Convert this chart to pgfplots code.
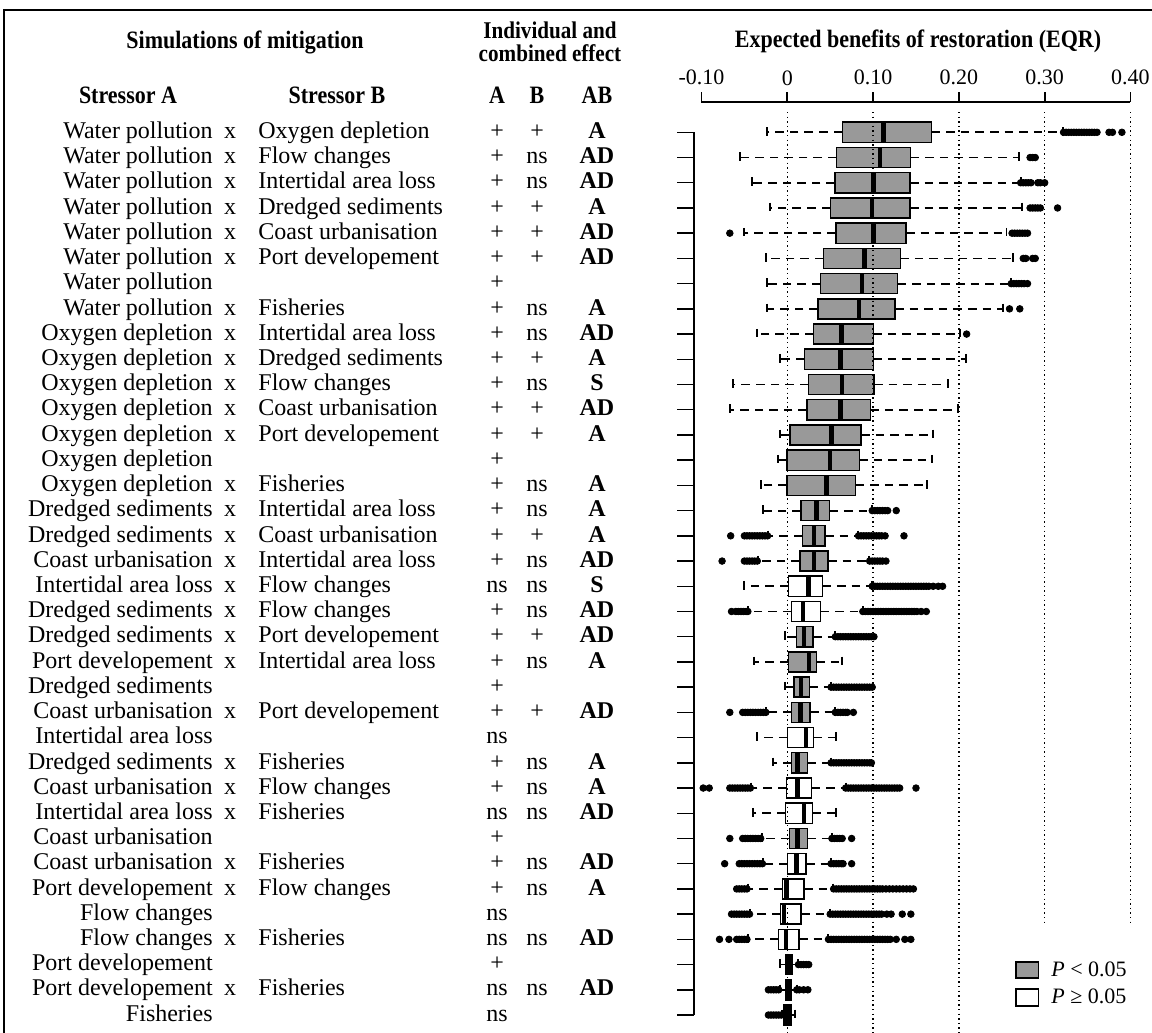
\documentclass[border=0pt]{standalone}
\usepackage{pgfplots}
\pgfplotsset{compat=1.18}
\usepgfplotslibrary{statistics}
\usepackage{graphicx}
\usepackage{fontspec}
\setmainfont{Liberation Serif}
\definecolor{boxgray}{RGB}{153,153,153}
\newcommand{\rf}{\fontsize{12}{14}\selectfont}
\newcommand{\hf}{\fontsize{12.5}{14}\selectfont\bfseries}
\newcommand{\hd}[1]{\scalebox{0.88}[1]{#1}}
\def\xA{-0.6693}\def\xX{-0.6495}\def\xB{-0.6169}\def\xa{-0.3383}\def\xb{-0.2917}\def\xab{-0.2218}
\tikzset{rowtext/.style={font=\rf, inner sep=0pt, yshift=-3.1pt},
  head/.style={font=\hf, anchor=base, inner sep=0pt},
  gridline/.style={black, line width=0.7pt, dash pattern=on 0.7pt off 1.6pt}}
\newcommand{\pair}[6]{%
  \node[rowtext,anchor=base east] at (axis cs:\xA,#1) {#2};
  \node[rowtext,anchor=base] at (axis cs:\xX,#1) {x};
  \node[rowtext,anchor=base west] at (axis cs:\xB,#1) {#3};
  \node[rowtext,anchor=base] at (axis cs:\xa,#1) {#4};
  \node[rowtext,anchor=base] at (axis cs:\xb,#1) {#5};
  \node[rowtext,anchor=base,font=\rf\bfseries] at (axis cs:\xab,#1) {#6};
}
\newcommand{\single}[3]{%
  \node[rowtext,anchor=base east] at (axis cs:\xA,#1) {#2};
  \node[rowtext,anchor=base] at (axis cs:\xa,#1) {#3};
}
\newcommand{\bx}[7]{%
  \addplot[black, boxplot prepared={draw position=#1, lower whisker=#2, lower quartile=#3, median=#4, upper quartile=#5, upper whisker=#6},
    boxplot/every box/.style={fill=#7, line width=0.75pt}] coordinates {};
}
\begin{document}
\begin{tikzpicture}
\path[use as bounding box] (0,0) rectangle (576pt,-516.5pt);
\draw[line width=1pt] (2pt,-516.5pt) -- (2pt,-5pt) -- (576pt,-5pt);
\begin{axis}[
  at={(350.75pt,-51.15pt)}, anchor=north west,
  scale only axis, width=214.5pt, height=463.85pt,
  xmin=-0.1, xmax=0.4, ymin=-0.1895, ymax=36.595, y dir=reverse,
  axis x line*=top, axis y line=none,
  x axis line style={-, line width=0.85pt},
  xtick={-0.1,0,0.1,0.2,0.3,0.4},
  xticklabels={-0.10,0,0.10,0.20,0.30,0.40},
  xtick align=outside, major tick length=5pt,
  xtick style={line width=0.85pt, black},
  xticklabel style={font=\fontsize{11}{13}\selectfont},
  ytick=\empty,
  clip=false,
  boxplot/draw direction=x,
  boxplot/box extend=0.8,
  boxplot/whisker extend=0.42,
  boxplot/every whisker/.style={line width=0.9pt, dash pattern=on 4.3pt off 3pt},
  boxplot/every median/.style={line width=2.2pt, black},
  boxplot/draw/.code={%
    \draw[/pgfplots/boxplot/every whisker/.try]
      (boxplot cs:\pgfplotsboxplotvalue{lower whisker}) -- (boxplot cs:\pgfplotsboxplotvalue{lower quartile})
      (boxplot cs:\pgfplotsboxplotvalue{upper quartile}) -- (boxplot cs:\pgfplotsboxplotvalue{upper whisker});
    \draw[solid, line width=0.9pt]
      (boxplot whisker cs:\pgfplotsboxplotvalue{lower whisker},0) -- (boxplot whisker cs:\pgfplotsboxplotvalue{lower whisker},1)
      (boxplot whisker cs:\pgfplotsboxplotvalue{upper whisker},0) -- (boxplot whisker cs:\pgfplotsboxplotvalue{upper whisker},1);
    \draw[/pgfplots/boxplot/every box/.try]
      (boxplot box cs:\pgfplotsboxplotvalue{lower quartile},0) rectangle (boxplot box cs:\pgfplotsboxplotvalue{upper quartile},1);
    \draw[/pgfplots/boxplot/every median/.try]
      (boxplot box cs:\pgfplotsboxplotvalue{median},0) -- (boxplot box cs:\pgfplotsboxplotvalue{median},1);
  },
]
% boxes: row, lower whisker, Q1, median, Q3, upper whisker, fill
\bx{1}{-0.0233}{0.0641}{0.1123}{0.1682}{0.3217}{boxgray}
\bx{2}{-0.0552}{0.0575}{0.1080}{0.1437}{0.2704}{boxgray}
\bx{3}{-0.0408}{0.0556}{0.1006}{0.1430}{0.2720}{boxgray}
\bx{4}{-0.0202}{0.0501}{0.0990}{0.1430}{0.2735}{boxgray}
\bx{5}{-0.0501}{0.0567}{0.1006}{0.1383}{0.2556}{boxgray}
\bx{6}{-0.0249}{0.0423}{0.0901}{0.1317}{0.2626}{boxgray}
\bx{7}{-0.0233}{0.0385}{0.0870}{0.1286}{0.2603}{boxgray}
\bx{8}{-0.0233}{0.0357}{0.0839}{0.1255}{0.2510}{boxgray}
\bx{9}{-0.0357}{0.0303}{0.0633}{0.1002}{0.2012}{boxgray}
\bx{10}{-0.0082}{0.0198}{0.0622}{0.1002}{0.2082}{boxgray}
\bx{11}{-0.0629}{0.0245}{0.0641}{0.1010}{0.1869}{boxgray}
\bx{12}{-0.0668}{0.0229}{0.0618}{0.0967}{0.1993}{boxgray}
\bx{13}{-0.0082}{0.0031}{0.0517}{0.0859}{0.1702}{boxgray}
\bx{14}{-0.0113}{-0.0004}{0.0497}{0.0839}{0.1690}{boxgray}
\bx{15}{-0.0303}{-0.0004}{0.0458}{0.0796}{0.1632}{boxgray}
\bx{16}{-0.0280}{0.0159}{0.0342}{0.0490}{0.0983}{boxgray}
\bx{17}{-0.0221}{0.0175}{0.0311}{0.0439}{0.0820}{boxgray}
\bx{18}{-0.0338}{0.0148}{0.0311}{0.0474}{0.0956}{boxgray}
\bx{19}{-0.0505}{0.0012}{0.0245}{0.0408}{0.0983}{white}
\bx{20}{-0.0455}{0.0047}{0.0186}{0.0389}{0.0878}{white}
\bx{21}{-0.0023}{0.0105}{0.0194}{0.0299}{0.0556}{boxgray}
\bx{22}{-0.0389}{0.0012}{0.0253}{0.0338}{0.0633}{boxgray}
\bx{23}{-0.0023}{0.0078}{0.0163}{0.0256}{0.0505}{boxgray}
\bx{24}{-0.0249}{0.0051}{0.0155}{0.0264}{0.0556}{boxgray}
\bx{25}{-0.0357}{0.0000}{0.0218}{0.0303}{0.0563}{white}
\bx{26}{-0.0171}{0.0051}{0.0120}{0.0233}{0.0505}{boxgray}
\bx{27}{-0.0423}{-0.0008}{0.0117}{0.0284}{0.0680}{white}
\bx{28}{-0.0404}{-0.0019}{0.0198}{0.0291}{0.0563}{white}
\bx{29}{-0.0299}{0.0023}{0.0120}{0.0233}{0.0517}{boxgray}
\bx{30}{-0.0280}{0.0004}{0.0109}{0.0218}{0.0505}{white}
\bx{31}{-0.0455}{-0.0058}{-0.0008}{0.0194}{0.0536}{white}
\bx{32}{-0.0435}{-0.0078}{-0.0039}{0.0159}{0.0497}{white}
\bx{33}{-0.0455}{-0.0105}{-0.0016}{0.0136}{0.0478}{white}
\bx{34}{-0.0085}{-0.0016}{0.0023}{0.0062}{0.0128}{black}
\bx{35}{-0.0085}{-0.0016}{0.0020}{0.0050}{0.0109}{black}
\bx{36}{-0.0066}{-0.0047}{-0.0016}{0.0050}{0.0089}{black}
% outliers
\addplot[only marks, mark=*, mark size=1.65pt, black] coordinates {
(0.322,1)(0.325,1)(0.328,1)(0.331,1)(0.334,1)(0.337,1)(0.340,1)(0.343,1)(0.346,1)(0.349,1)(0.352,1)(0.355,1)(0.358,1)(0.361,1)(0.375,1)(0.379,1)(0.390,1)
(0.283,2)(0.286,2)(0.289,2)
(0.272,3)(0.275,3)(0.278,3)(0.281,3)(0.284,3)(0.292,3)(0.295,3)(0.300,3)
(0.283,4)(0.286,4)(0.289,4)(0.292,4)(0.295,4)(0.315,4)
(-0.067,5)(0.262,5)(0.265,5)(0.268,5)(0.271,5)(0.274,5)(0.277,5)(0.280,5)
(0.275,6)(0.278,6)(0.286,6)(0.289,6)
(0.261,7)(0.264,7)(0.267,7)(0.270,7)(0.273,7)(0.276,7)(0.280,7)
(0.259,8)(0.271,8)
(0.209,9)
(0.099,16)(0.102,16)(0.105,16)(0.108,16)(0.111,16)(0.114,16)(0.117,16)(0.127,16)
(-0.066,17)(-0.050,17)(-0.047,17)(-0.044,17)(-0.041,17)(-0.038,17)(-0.035,17)(-0.032,17)(-0.029,17)(-0.026,17)(-0.023,17)
(0.083,17)(0.086,17)(0.089,17)(0.092,17)(0.095,17)(0.098,17)(0.101,17)(0.104,17)(0.107,17)(0.110,17)(0.114,17)(0.136,17)
(-0.076,18)(-0.050,18)(-0.047,18)(-0.044,18)(-0.041,18)(-0.038,18)(-0.035,18)
(0.096,18)(0.099,18)(0.102,18)(0.105,18)(0.108,18)(0.111,18)(0.115,18)
(0.099,19)(0.102,19)(0.105,19)(0.108,19)(0.111,19)(0.114,19)(0.117,19)(0.120,19)(0.123,19)(0.126,19)(0.129,19)(0.132,19)
(0.135,19)(0.138,19)(0.141,19)(0.144,19)(0.147,19)(0.150,19)(0.153,19)(0.156,19)(0.159,19)(0.162,19)(0.165,19)(0.170,19)(0.176,19)(0.181,19)
(-0.065,20)(-0.060,20)(-0.057,20)(-0.054,20)(-0.051,20)(-0.048,20)(-0.046,20)
(0.088,20)(0.091,20)(0.094,20)(0.097,20)(0.100,20)(0.103,20)(0.106,20)(0.109,20)(0.112,20)(0.115,20)(0.118,20)
(0.121,20)(0.124,20)(0.127,20)(0.130,20)(0.133,20)(0.136,20)(0.139,20)(0.142,20)(0.145,20)(0.148,20)(0.151,20)(0.156,20)(0.162,20)
(0.056,21)(0.059,21)(0.062,21)(0.065,21)(0.068,21)(0.071,21)(0.074,21)(0.077,21)(0.080,21)(0.083,21)(0.086,21)(0.089,21)(0.092,21)(0.095,21)(0.098,21)(0.101,21)
(0.051,23)(0.054,23)(0.057,23)(0.060,23)(0.063,23)(0.066,23)(0.069,23)(0.072,23)(0.075,23)(0.078,23)(0.081,23)(0.084,23)(0.087,23)(0.090,23)(0.093,23)(0.096,23)(0.099,23)
(-0.067,24)(-0.052,24)(-0.049,24)(-0.046,24)(-0.043,24)(-0.040,24)(-0.037,24)(-0.034,24)(-0.031,24)(-0.028,24)(-0.025,24)
(0.056,24)(0.059,24)(0.062,24)(0.065,24)(0.068,24)(0.070,24)(0.077,24)
(0.051,26)(0.054,26)(0.057,26)(0.060,26)(0.063,26)(0.066,26)(0.069,26)(0.072,26)(0.075,26)(0.078,26)(0.081,26)(0.084,26)(0.087,26)(0.090,26)(0.093,26)(0.096,26)(0.098,26)
(-0.098,27)(-0.091,27)(-0.067,27)(-0.064,27)(-0.061,27)(-0.058,27)(-0.055,27)(-0.052,27)(-0.049,27)(-0.046,27)(-0.043,27)
(0.068,27)(0.071,27)(0.074,27)(0.077,27)(0.080,27)(0.083,27)(0.086,27)(0.089,27)(0.092,27)(0.095,27)(0.098,27)(0.101,27)
(0.104,27)(0.107,27)(0.110,27)(0.113,27)(0.116,27)(0.119,27)(0.122,27)(0.125,27)(0.128,27)(0.131,27)(0.150,27)
(-0.067,29)(-0.052,29)(-0.049,29)(-0.046,29)(-0.043,29)(-0.040,29)(-0.037,29)(-0.034,29)(-0.031,29)
(0.052,29)(0.055,29)(0.058,29)(0.061,29)(0.064,29)(0.075,29)
(-0.073,30)(-0.056,30)(-0.053,30)(-0.050,30)(-0.047,30)(-0.044,30)(-0.041,30)(-0.038,30)(-0.035,30)(-0.032,30)(-0.029,30)
(0.051,30)(0.054,30)(0.057,30)(0.060,30)(0.063,30)(0.065,30)(0.075,30)
(-0.059,31)(-0.056,31)(-0.053,31)(-0.050,31)(-0.047,31)
(0.054,31)(0.057,31)(0.060,31)(0.063,31)(0.066,31)(0.069,31)(0.072,31)(0.075,31)(0.078,31)(0.081,31)(0.084,31)(0.087,31)(0.090,31)
(0.093,31)(0.096,31)(0.099,31)(0.102,31)(0.105,31)(0.108,31)(0.111,31)(0.115,31)(0.119,31)(0.123,31)(0.127,31)(0.131,31)(0.135,31)(0.139,31)(0.143,31)(0.147,31)
(-0.065,32)(-0.062,32)(-0.059,32)(-0.056,32)(-0.053,32)(-0.050,32)(-0.047,32)(-0.044,32)
(0.050,32)(0.053,32)(0.056,32)(0.059,32)(0.062,32)(0.065,32)(0.068,32)(0.071,32)(0.074,32)(0.077,32)(0.080,32)(0.083,32)(0.086,32)
(0.089,32)(0.092,32)(0.095,32)(0.098,32)(0.101,32)(0.104,32)(0.107,32)(0.110,32)(0.116,32)(0.121,32)(0.134,32)(0.144,32)
(-0.079,33)(-0.068,33)(-0.059,33)(-0.056,33)(-0.053,33)(-0.050,33)(-0.047,33)
(0.048,33)(0.051,33)(0.054,33)(0.057,33)(0.060,33)(0.063,33)(0.066,33)(0.069,33)(0.072,33)(0.075,33)(0.078,33)(0.081,33)(0.084,33)
(0.087,33)(0.090,33)(0.093,33)(0.096,33)(0.099,33)(0.102,33)(0.105,33)(0.108,33)(0.111,33)(0.114,33)(0.117,33)(0.120,33)(0.127,33)(0.137,33)(0.144,33)
(0.013,34)(0.016,34)(0.019,34)(0.022,34)(0.025,34)
(-0.022,35)(-0.019,35)(-0.016,35)(-0.013,35)(-0.010,35)(0.011,35)(0.014,35)(0.019,35)(0.024,35)
(-0.022,36)(-0.019,36)(-0.016,36)(-0.013,36)(-0.010,36)(-0.007,36)
};
% dotted reference lines
\addplot[gridline] coordinates {(0,0.195) (0,36.71)};
\addplot[gridline] coordinates {(0.1,0.195) (0.1,36.71)};
\addplot[gridline] coordinates {(0.2,0.195) (0.2,36.71)};
\addplot[gridline] coordinates {(0.3,0.195) (0.3,32.35)};
\addplot[gridline] coordinates {(0.4,0.195) (0.4,32.35)};
% left bracket
\draw[line width=0.7pt] (axis cs:-0.10874,1) -- (axis cs:-0.10874,36);
\pgfplotsinvokeforeach{1,...,36}{\draw[line width=0.7pt] (axis cs:-0.12855,#1) -- (axis cs:-0.10874,#1);}
% legend
\draw[fill=boxgray, line width=0.7pt] (axis cs:0.2666,33.898) rectangle (axis cs:0.2925,34.53);
\draw[fill=white, line width=0.7pt] (axis cs:0.2666,34.97) rectangle (axis cs:0.2925,35.64);
\node[anchor=base west, inner sep=0pt, font=\fontsize{11}{13}\selectfont, yshift=-3.1pt] at (axis cs:0.3073,34.215) {\textit{P} < 0.05};
\node[anchor=base west, inner sep=0pt, font=\fontsize{11}{13}\selectfont, yshift=-3.1pt] at (axis cs:0.3073,35.306) {\textit{P} ≥ 0.05};
% table text
\pair{1}{Water pollution}{Oxygen depletion}{+}{+}{A}
\pair{2}{Water pollution}{Flow changes}{+}{ns}{AD}
\pair{3}{Water pollution}{Intertidal area loss}{+}{ns}{AD}
\pair{4}{Water pollution}{Dredged sediments}{+}{+}{A}
\pair{5}{Water pollution}{Coast urbanisation}{+}{+}{AD}
\pair{6}{Water pollution}{Port developement}{+}{+}{AD}
\single{7}{Water pollution}{+}
\pair{8}{Water pollution}{Fisheries}{+}{ns}{A}
\pair{9}{Oxygen depletion}{Intertidal area loss}{+}{ns}{AD}
\pair{10}{Oxygen depletion}{Dredged sediments}{+}{+}{A}
\pair{11}{Oxygen depletion}{Flow changes}{+}{ns}{S}
\pair{12}{Oxygen depletion}{Coast urbanisation}{+}{+}{AD}
\pair{13}{Oxygen depletion}{Port developement}{+}{+}{A}
\single{14}{Oxygen depletion}{+}
\pair{15}{Oxygen depletion}{Fisheries}{+}{ns}{A}
\pair{16}{Dredged sediments}{Intertidal area loss}{+}{ns}{A}
\pair{17}{Dredged sediments}{Coast urbanisation}{+}{+}{A}
\pair{18}{Coast urbanisation}{Intertidal area loss}{+}{ns}{AD}
\pair{19}{Intertidal area loss}{Flow changes}{ns}{ns}{S}
\pair{20}{Dredged sediments}{Flow changes}{+}{ns}{AD}
\pair{21}{Dredged sediments}{Port developement}{+}{+}{AD}
\pair{22}{Port developement}{Intertidal area loss}{+}{ns}{A}
\single{23}{Dredged sediments}{+}
\pair{24}{Coast urbanisation}{Port developement}{+}{+}{AD}
\single{25}{Intertidal area loss}{ns}
\pair{26}{Dredged sediments}{Fisheries}{+}{ns}{A}
\pair{27}{Coast urbanisation}{Flow changes}{+}{ns}{A}
\pair{28}{Intertidal area loss}{Fisheries}{ns}{ns}{AD}
\single{29}{Coast urbanisation}{+}
\pair{30}{Coast urbanisation}{Fisheries}{+}{ns}{AD}
\pair{31}{Port developement}{Flow changes}{+}{ns}{A}
\single{32}{Flow changes}{ns}
\pair{33}{Flow changes}{Fisheries}{ns}{ns}{AD}
\single{34}{Port developement}{+}
\pair{35}{Port developement}{Fisheries}{ns}{ns}{AD}
\single{36}{Fisheries}{ns}
\end{axis}
% headers
\node[head] at (122.5pt,-24pt) {\hd{Simulations of mitigation}};
\node[inner sep=0pt, anchor=center, align=center, font=\fontsize{12}{11.6}\selectfont\bfseries] at (275pt,-21pt) {\hd{Individual and}\\\hd{combined effect}};
\node[head] at (459pt,-23.5pt) {\hd{Expected benefits of restoration (EQR)}};
\node[head] at (64pt,-51.5pt) {\hd{Stressor A}};
\node[head] at (168.5pt,-51.5pt) {\hd{Stressor B}};
\node[head] at (248.5pt,-51.5pt) {\hd{A}};
\node[head] at (268.5pt,-51.5pt) {\hd{B}};
\node[head] at (298.5pt,-51.5pt) {\hd{AB}};
\end{tikzpicture}
\end{document}
